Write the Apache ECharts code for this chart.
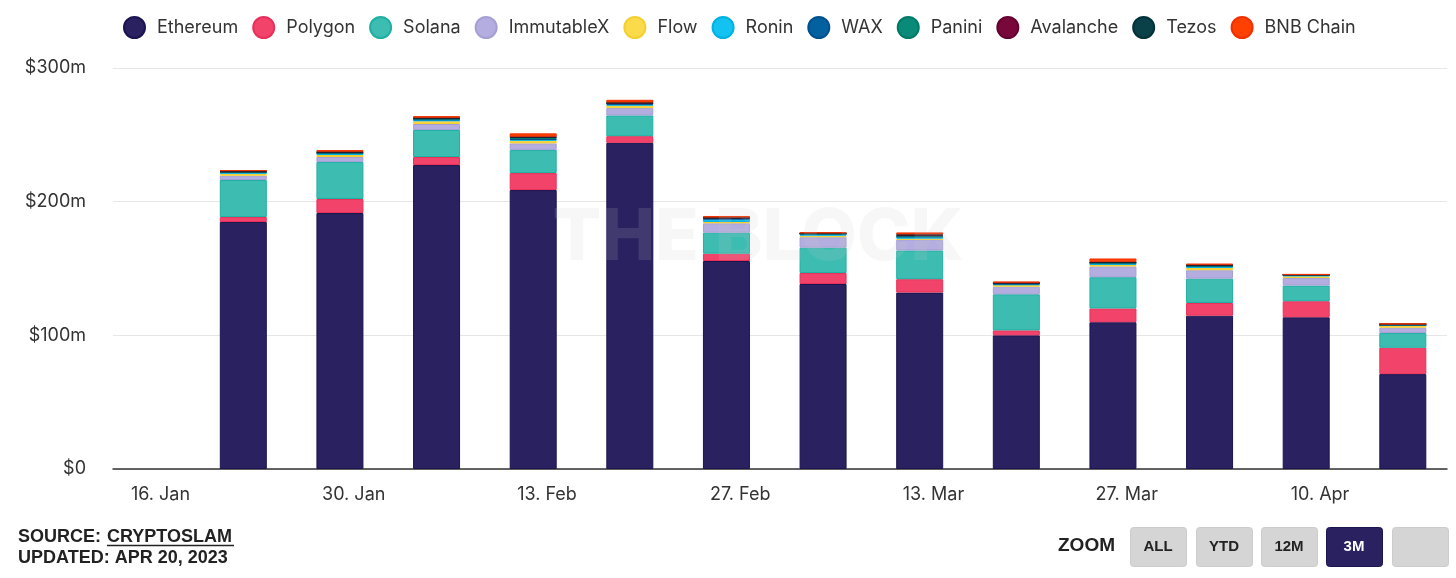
<!DOCTYPE html>
<html>
<head>
<meta charset="utf-8">
<script src="https://cdn.jsdelivr.net/npm/echarts@6/dist/echarts.min.js"></script>
<style>
html,body{margin:0;padding:0;background:#fff;}
#c{width:1456px;height:578px;}
</style>
</head>
<body>
<div id="c"></div>
<script>
// ---- data (values in $m) ----
const weeks = ['2023-01-22','2023-01-29','2023-02-05','2023-02-12','2023-02-19','2023-02-26','2023-03-05','2023-03-12','2023-03-19','2023-03-26','2023-04-02','2023-04-09','2023-04-16'];
const tickDates = ['2023-01-16','2023-01-30','2023-02-13','2023-02-27','2023-03-13','2023-03-27','2023-04-10'];
const tickLabels = ['16. Jan','30. Jan','13. Feb','27. Feb','13. Mar','27. Mar','10. Apr'];
const yTicks = [0,100,200,300];

const ethereum   = [184.8,191.5,227.4,208.7,244.0,155.6,138.4,132.0,100.0,109.8,114.7,113.5,71.0];
const polygon    = [3.7,10.5,6.0,12.7,5.0,5.5,8.2,10.0,3.7,10.3,9.5,12.0,19.7];
const solana     = [27.7,27.7,20.2,17.2,15.5,15.7,19.0,21.5,27.0,23.4,18.2,11.7,11.0];
const immutablex = [3.2,3.7,4.5,5.0,5.5,7.0,7.8,8.0,5.7,8.0,6.3,5.7,4.0];
const flow       = [1.5,1.5,2.0,2.0,2.0,1.0,1.1,0.8,1.3,1.5,1.7,1.2,1.7];
const ronin      = [0.8,1.0,1.0,0.8,0.5,2.0,1.1,1.2,0.4,0.4,1.0,0.9,0.2];
const wax        = [0.3,0.4,0.5,0.4,0.8,0.5,0.3,0.5,0.7,0.6,0.4,0.2,0.1];
const panini     = [0.3,0.4,0.5,1.0,0.3,0.3,0.2,0.3,0.2,0.3,0.2,0.1,0.5];
const avalanche  = [0.3,0.4,0.4,0.5,0.3,0.3,0.2,0.7,0.2,0.4,0.5,0.1,0.1];
const tezos      = [0.5,0.3,0.3,0.3,0.3,0.2,0.2,0.5,0.2,0.3,0.3,0.1,0.2];
const bnb        = [0.3,1.2,1.2,2.5,2.0,1.2,0.5,1.5,0.8,2.5,0.8,0.1,0.1];

const seriesNames = ['Ethereum','Polygon','Solana','ImmutableX','Flow','Ronin','WAX','Panini','Avalanche','Tezos','BNB Chain'];
const seriesValues = [ethereum,polygon,solana,immutablex,flow,ronin,wax,panini,avalanche,tezos,bnb];
const colors  = ['#2a2160','#f2436b','#3dbdb2','#b4aee0','#fcdb4b','#12c2f0','#0361a0','#0a8a78','#78083a','#0a4048','#fe4100'];
const borders = ['#1a1450','#e8305a','#1fb0a2','#a59fd6','#f3cf30','#00b2e2','#005090','#007a68','#660030','#00323a','#f03000'];

const ts = d => Date.parse(d + 'T00:00:00Z');
const DAY = 86400000;
const xMin = ts('2023-01-16') - 3.44 * DAY;
const xMax = ts('2023-04-10') + 9.2 * DAY;
const PLOT_W = 1334, BAR_W = 47;
// ECharts widens a bar series' base axis by the bar width; pre-shrink so the final extent is [xMin, xMax]
const shrink = (xMax - xMin) * (BAR_W / 2) / PLOT_W;
const labelMap = {};
tickDates.forEach((d,i)=>{ labelMap[ts(d)] = tickLabels[i]; });

const FONT = 'Inter, Roboto, sans-serif';

const chart = echarts.init(document.getElementById('c'), null, {renderer:'canvas'});

const series = seriesNames.map((name, k) => ({
  name,
  type: 'bar',
  stack: 'total',
  xAxisIndex: 0,
  barWidth: BAR_W,
  itemStyle: { color: colors[k], borderColor: borders[k], borderWidth: 1 },
  emphasis: { disabled: true },
  data: weeks.map((w,i)=>[ts(w), seriesValues[k][i]])
}));

const btn = (x, label, active) => ([
  { type:'rect', left:x, top:527, shape:{width:56, height:39, r:3},
    style:{ fill: active ? '#2a2160' : '#d5d5d5', stroke: active ? '#1a1450' : '#cccccc', lineWidth:1 }, z:10 },
  { type:'text', x: x + 28, y: 547, z:11,
    style:{ text: label, align:'center', verticalAlign:'middle', font:'bold 15px "Liberation Sans", Arial, sans-serif', fill: active ? '#ffffff' : '#222222' } }
]);

const graphics = [
  { type:'text', x:758, y:238, z:100, silent:true,
    style:{ text:'THE BLOCK', align:'center', verticalAlign:'middle', font:'800 72px Inter, sans-serif', fill:'rgba(200,200,200,0.15)' } },
  { type:'text', left:18, top:528, style:{ text:'SOURCE: ', font:'bold 18px "Liberation Sans", Arial, sans-serif', fill:'#222' } },
  { type:'text', left:107, top:528, style:{ text:'CRYPTOSLAM', font:'bold 18px "Liberation Sans", Arial, sans-serif', fill:'#222' } },
  { type:'line', shape:{x1:107, y1:545.5, x2:234, y2:545.5}, style:{ stroke:'#222', lineWidth:1.5 } },
  { type:'text', left:18, top:549, style:{ text:'UPDATED: APR 20, 2023', font:'bold 18px "Liberation Sans", Arial, sans-serif', fill:'#222' } },
  { type:'text', left:1058, top:536, style:{ text:'ZOOM', font:'bold 19px "Liberation Sans", Arial, sans-serif', fill:'#222' } }
].concat(btn(1130,'ALL',false), btn(1196,'YTD',false), btn(1261,'12M',false), btn(1326,'3M',true), btn(1392,'',false));

chart.setOption({
  animation: false,
  backgroundColor: '#ffffff',
  color: colors,
  grid: { left: 113, right: 9, top: 68, bottom: 109, containLabel: false },
  legend: {
    left: 123, top: 16, padding: 0,
    icon: 'circle', itemWidth: 21, itemHeight: 21, itemGap: 14,
    textStyle: { fontFamily: FONT, fontSize: 18, color: '#333', padding: [0,0,0,7] },
    data: seriesNames
  },
  xAxis: [{
    type: 'time',
    min: xMin + shrink, max: xMax - shrink,
    axisLine: { show: false },
    axisTick: { show: false },
    axisLabel: { show: false },
    splitLine: { show: false }
  }, {
    type: 'value',
    position: 'bottom',
    min: xMin, max: xMax,
    axisLine: { show: true, onZero: false, lineStyle: { color: '#333', width: 1.5 } },
    axisTick: { show: false },
    splitLine: { show: false },
    axisLabel: {
      customValues: tickDates.map(ts),
      formatter: v => labelMap[v] || '',
      fontFamily: FONT, fontSize: 18, color: '#333', margin: 17,
      hideOverlap: false
    }
  }],
  yAxis: {
    type: 'value',
    min: 0, max: 300, interval: 100,
    axisLine: { show: false },
    axisTick: { show: false },
    splitLine: { lineStyle: { color: '#e6e6e6', width: 1 } },
    axisLabel: {
      formatter: v => v === 0 ? '$0' : '$' + v + 'm',
      fontFamily: FONT, fontSize: 18, color: '#333', margin: 27
    }
  },
  series,
  graphic: graphics
});
</script>
</body>
</html>
